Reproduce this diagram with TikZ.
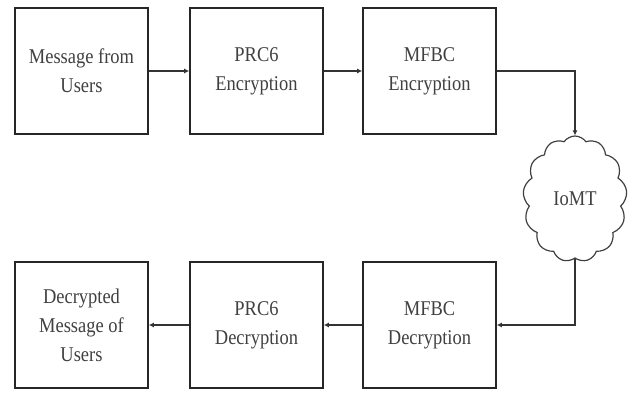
\documentclass[tikz,border=0pt]{standalone}
\usepackage{fontspec}
\setmainfont[FakeStretch=0.88]{Liberation Serif}
\usetikzlibrary{arrows.meta,shapes.symbols}
\begin{document}
\begin{tikzpicture}[x=1pt,y=-1pt,
  blockbox/.style={draw=black!85,line width=1.6pt,minimum width=133pt,minimum height=126pt,
    align=center,font=\fontsize{21}{29}\selectfont,text=black!75,inner sep=0pt},
  flow/.style={draw=black!80,line width=1.6pt,-{Latex[length=5pt,width=5pt]}},
  net/.style={cloud,draw=black!75,line width=1.2pt,cloud puffs=13,cloud puff arc=110,
    aspect=0.85,minimum width=104pt,minimum height=126pt,inner sep=0pt,
    font=\fontsize{21}{29}\selectfont,text=black!75}]
\useasboundingbox (0,0) rectangle (635,394);
% sending side
\node[blockbox] (msg)  at (81.5,71)  {Message from\\Users};
\node[blockbox] (penc) at (256.5,71) {PRC6\\Encryption};
\node[blockbox] (menc) at (429.5,71) {MFBC\\Encryption};
% network
\node[net] (iomt) at (575,199) {IoMT};
% receiving side
\node[blockbox] (dmsg) at (81.5,325)  {Decrypted\\Message of\\Users};
\node[blockbox] (pdec) at (256.5,325) {PRC6\\Decryption};
\node[blockbox] (mdec) at (429.5,325) {MFBC\\Decryption};
% connectors
\draw[flow] (msg) -- (penc);
\draw[flow] (penc) -- (menc);
\draw[flow] (menc.east) -| (iomt.north);
\draw[flow] (iomt.south) |- (mdec.east);
\draw[flow] (mdec) -- (pdec);
\draw[flow] (pdec) -- (dmsg);
\end{tikzpicture}
\end{document}
